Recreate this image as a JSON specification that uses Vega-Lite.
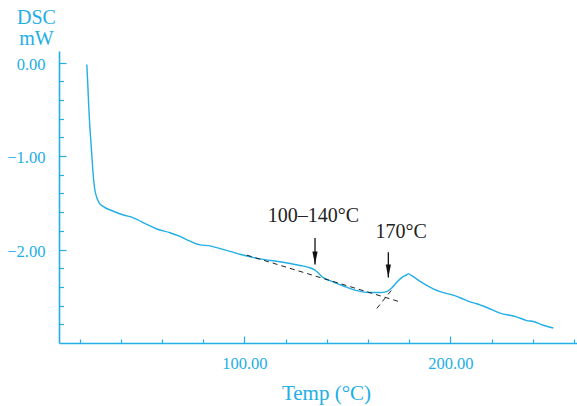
{
  "$schema": "https://vega.github.io/schema/vega-lite/v6.json",
  "width": 518,
  "height": 292,
  "autosize": {"type": "none"},
  "padding": {"left": 59, "top": 51, "right": 0, "bottom": 63},
  "background": "white",
  "config": {"view": {"stroke": null}, "font": "Liberation Serif", "axis": {"grid": false}},
  "datasets": {
    "curve": [
      {"T": 23.5, "mW": -0.02}, {"T": 24.0, "mW": -0.24}, {"T": 24.4, "mW": -0.45}, {"T": 24.9, "mW": -0.66},
      {"T": 25.4, "mW": -0.82}, {"T": 25.9, "mW": -0.98}, {"T": 26.4, "mW": -1.14}, {"T": 26.8, "mW": -1.25},
      {"T": 27.4, "mW": -1.36}, {"T": 28.3, "mW": -1.44}, {"T": 29.5, "mW": -1.50}, {"T": 31.6, "mW": -1.54},
      {"T": 36.4, "mW": -1.59}, {"T": 41.3, "mW": -1.63}, {"T": 46.1, "mW": -1.66}, {"T": 52.6, "mW": -1.73},
      {"T": 57.5, "mW": -1.78}, {"T": 63.9, "mW": -1.82}, {"T": 68.8, "mW": -1.86}, {"T": 73.6, "mW": -1.91},
      {"T": 78.5, "mW": -1.95}, {"T": 83.4, "mW": -1.96}, {"T": 88.2, "mW": -1.99}, {"T": 94.7, "mW": -2.03},
      {"T": 97.9, "mW": -2.05}, {"T": 107.6, "mW": -2.10}, {"T": 117.3, "mW": -2.13}, {"T": 127.0, "mW": -2.17},
      {"T": 131.1, "mW": -2.19}, {"T": 134.3, "mW": -2.22}, {"T": 138.3, "mW": -2.30}, {"T": 142.4, "mW": -2.34},
      {"T": 148.1, "mW": -2.39}, {"T": 154.6, "mW": -2.44}, {"T": 161.0, "mW": -2.46}, {"T": 165.9, "mW": -2.46},
      {"T": 169.1, "mW": -2.45}, {"T": 171.6, "mW": -2.41}, {"T": 174.0, "mW": -2.35}, {"T": 176.4, "mW": -2.30},
      {"T": 178.8, "mW": -2.27}, {"T": 179.6, "mW": -2.26}, {"T": 181.3, "mW": -2.28}, {"T": 185.3, "mW": -2.34},
      {"T": 191.7, "mW": -2.42}, {"T": 195.0, "mW": -2.45}, {"T": 203.1, "mW": -2.50}, {"T": 206.3, "mW": -2.53},
      {"T": 209.6, "mW": -2.56}, {"T": 212.8, "mW": -2.58}, {"T": 217.7, "mW": -2.62}, {"T": 224.1, "mW": -2.68},
      {"T": 232.2, "mW": -2.72}, {"T": 237.1, "mW": -2.76}, {"T": 240.3, "mW": -2.77}, {"T": 245.1, "mW": -2.81},
      {"T": 250.0, "mW": -2.84}
    ],
    "baseline": [
      {"seg": "a", "T": 101.2, "mW": -2.06}, {"seg": "a", "T": 175.6, "mW": -2.56},
      {"seg": "b", "T": 164.3, "mW": -2.63}, {"seg": "b", "T": 171.6, "mW": -2.43}
    ],
    "arrows": [
      {"T": 134.3, "top": -1.875, "tip": -2.16},
      {"T": 169.9, "top": -2.03, "tip": -2.30}
    ],
    "notes": [
      {"T": 133.5, "mW": -1.71, "label": "100–140°C"},
      {"T": 176.1, "mW": -1.877, "label": "170°C"}
    ]
  },
  "layer": [
    {
      "data": {"name": "curve"},
      "mark": {"type": "line", "color": "#22aee6", "strokeWidth": 1.4, "interpolate": "monotone"},
      "encoding": {
        "x": {"field": "T", "type": "quantitative", "scale": {"domain": [10, 261.5], "nice": false, "zero": false},
          "axis": {"orient": "bottom", "values": [100, 200], "format": ".2f", "tickSize": -7, "tickWidth": 1.2,
            "tickColor": "#22aee6", "domainColor": "#22aee6", "domainWidth": 1.6, "labelColor": "#22aee6",
            "labelFont": "Liberation Serif", "labelFontSize": 16.5, "labelPadding": 19, "labelFlush": false,
            "title": "Temp (°C)", "titleX": 267, "titleY": 56, "titleAlign": "center", "titleBaseline": "alphabetic",
            "titleFont": "Liberation Serif", "titleFontSize": 21, "titleFontWeight": "normal", "titleColor": "#22aee6"}},
        "y": {"field": "mW", "type": "quantitative", "scale": {"domain": [-3, 0.125], "nice": false, "zero": false},
          "axis": {"orient": "left", "values": [0, -1, -2], "format": ".2f", "tickSize": -7, "tickWidth": 1.2,
            "tickColor": "#22aee6", "domainColor": "#22aee6", "domainWidth": 1.6, "labelColor": "#22aee6",
            "labelFont": "Liberation Serif", "labelFontSize": 16.5, "labelPadding": 21, "labelOffset": 1.5,
            "labelBaseline": "middle", "labelFlush": false,
            "title": ["DSC", "mW"], "titleAngle": 0, "titleX": -23, "titleY": -28, "titleAlign": "center",
            "titleBaseline": "alphabetic", "titleLineHeight": 21, "titleFont": "Liberation Serif", "titleFontSize": 20,
            "titleFontWeight": "normal", "titleColor": "#22aee6"}}
      }
    },
    {
      "data": {"name": "baseline"},
      "mark": {"type": "line", "color": "#222222", "strokeWidth": 1, "strokeDash": [5, 4]},
      "encoding": {
        "x": {"field": "T", "type": "quantitative",
          "axis": {"orient": "bottom", "values": [20, 40, 60, 80, 120, 140, 160, 180, 220, 240, 260], "tickSize": -4,
            "tickWidth": 1.2, "tickColor": "#22aee6", "labels": false, "domain": false, "title": null}},
        "y": {"field": "mW", "type": "quantitative",
          "axis": {"orient": "left", "values": [-2.8, -2.6, -2.4, -2.2, -1.8, -1.6, -1.4, -1.2, -0.8, -0.6, -0.4, -0.2],
            "tickSize": -4.5, "tickWidth": 1.2, "tickColor": "#22aee6", "labels": false, "domain": false, "title": null}},
        "detail": {"field": "seg"}
      }
    },
    {
      "data": {"name": "arrows"},
      "mark": {"type": "rule", "color": "#111111", "strokeWidth": 1.3},
      "encoding": {
        "x": {"field": "T", "type": "quantitative", "axis": null},
        "y": {"field": "top", "type": "quantitative", "axis": null},
        "y2": {"field": "tip"}
      }
    },
    {
      "data": {"name": "arrows"},
      "mark": {"type": "point", "shape": "M-0.4,-2L0.4,-2L0,0Z", "size": 169, "filled": true, "color": "#111111", "opacity": 1, "strokeWidth": 0},
      "encoding": {
        "x": {"field": "T", "type": "quantitative", "axis": null},
        "y": {"field": "tip", "type": "quantitative", "axis": null}
      }
    },
    {
      "data": {"name": "notes"},
      "mark": {"type": "text", "font": "Liberation Serif", "fontSize": 20, "color": "#222222", "align": "center", "baseline": "alphabetic"},
      "encoding": {
        "x": {"field": "T", "type": "quantitative", "axis": null},
        "y": {"field": "mW", "type": "quantitative", "axis": null},
        "text": {"field": "label"}
      }
    }
  ],
  "resolve": {"axis": {"x": "independent", "y": "independent"}}
}
